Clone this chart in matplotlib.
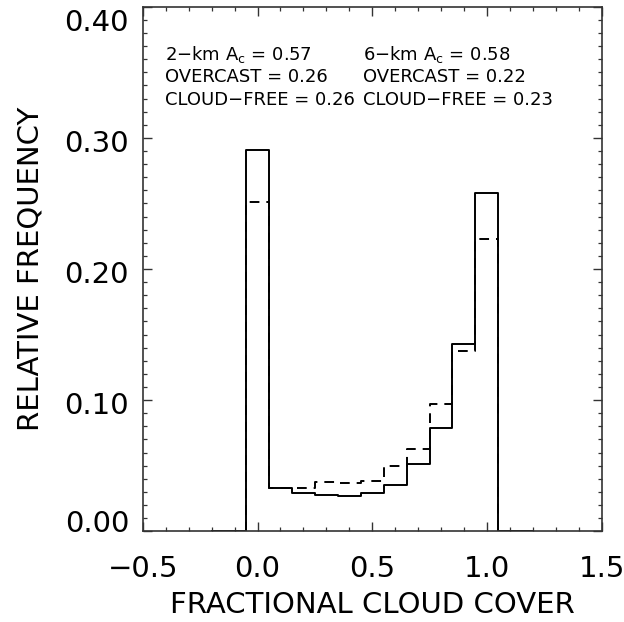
import matplotlib
matplotlib.use("Agg")
from matplotlib import pyplot as plt
from matplotlib.ticker import MultipleLocator, FixedLocator
import matplotlib.transforms as mtransforms

# bin centres of fractional cloud cover (zero bins padded at both ends)
cover = [-0.2, -0.1, 0.0, 0.1, 0.2, 0.3, 0.4, 0.5, 0.6, 0.7, 0.8, 0.9, 1.0, 1.1, 1.2]
# relative frequency, 2-km (solid) and 6-km (dashed) resolution
freq_2km = [0, 0, 0.291, 0.033, 0.029, 0.0275, 0.0267, 0.0288, 0.0354, 0.051, 0.0789, 0.143, 0.258, 0, 0]
freq_6km = [0, 0, 0.251, 0.033, 0.033, 0.0377, 0.037, 0.038, 0.050, 0.063, 0.097, 0.1376, 0.223, 0, 0]

x_ticks = [-0.5, 0.0, 0.5, 1.0, 1.5]
y_ticks = [0.0, 0.1, 0.2, 0.3, 0.4]

col_2km = ["2\u2212km A$_\\mathregular{c}$ = 0.57", "OVERCAST = 0.26", "CLOUD\u2212FREE = 0.26"]
col_6km = ["6\u2212km A$_\\mathregular{c}$ = 0.58", "OVERCAST = 0.22", "CLOUD\u2212FREE = 0.23"]

plt.rcParams['font.family'] = ['DejaVu Sans']
plt.rcParams['lines.scale_dashes'] = False

fig = plt.figure(figsize=(6.24, 6.22), dpi=100)
ax = fig.add_axes([0.229, 0.146, 0.735, 0.843])

ax.step(cover, freq_2km, where='mid', color='black', lw=1.4)
ax.step(cover, freq_6km, where='mid', color='black', lw=1.4, dashes=(7, 5))

# annotation text
ys = [0.364, 0.3466, 0.329]
for t, y in zip(col_2km, ys):
    ax.text(-0.404, y, t, fontsize=13, va='center', ha='left')
for t, y in zip(col_6km, ys):
    ax.text(0.461, y, t, fontsize=13, va='center', ha='left')

ax.set_xlim(-0.5, 1.5)
ax.set_ylim(0, 0.40)
ax.xaxis.set_major_locator(FixedLocator(x_ticks))
ax.xaxis.set_minor_locator(MultipleLocator(0.1))
ax.yaxis.set_major_locator(FixedLocator(y_ticks))
ax.yaxis.set_minor_locator(MultipleLocator(0.01))
ax.xaxis.set_major_formatter(lambda v, p: ("%.1f" % v).replace("-", "\u2212"))
ax.yaxis.set_major_formatter(lambda v, p: "%.2f" % v)

ax.tick_params(which='both', direction='in', top=True, right=True, color='#333333')
ax.tick_params(which='major', length=6.5, width=1.0, labelsize=21)
ax.tick_params(which='minor', length=3.2, width=0.9)
ax.tick_params(axis='x', which='major', pad=17)
ax.tick_params(axis='y', which='major', pad=10)
for s in ax.spines.values():
    s.set_linewidth(1.2)
    s.set_color('#333333')

ax.set_xlabel("FRACTIONAL CLOUD COVER", fontsize=21)
ax.set_ylabel("RELATIVE FREQUENCY", fontsize=21)
ax.xaxis.label.set_va('center')
ax.yaxis.label.set_va('center')
ax.xaxis.set_label_coords(0.5, -0.141)
ax.yaxis.set_label_coords(-0.246, 0.5)

# IDL-style label placement: labels sit a little low, end labels kept inside the frame
shift_px = [10, -3, -3, -3, -13]
for tk, dy in zip(ax.yaxis.get_major_ticks(), shift_px):
    tk.label1.set_transform(tk.label1.get_transform()
                            + mtransforms.ScaledTranslation(0, dy / 100, fig.dpi_scale_trans))

fig.savefig("out.png", dpi=100)
